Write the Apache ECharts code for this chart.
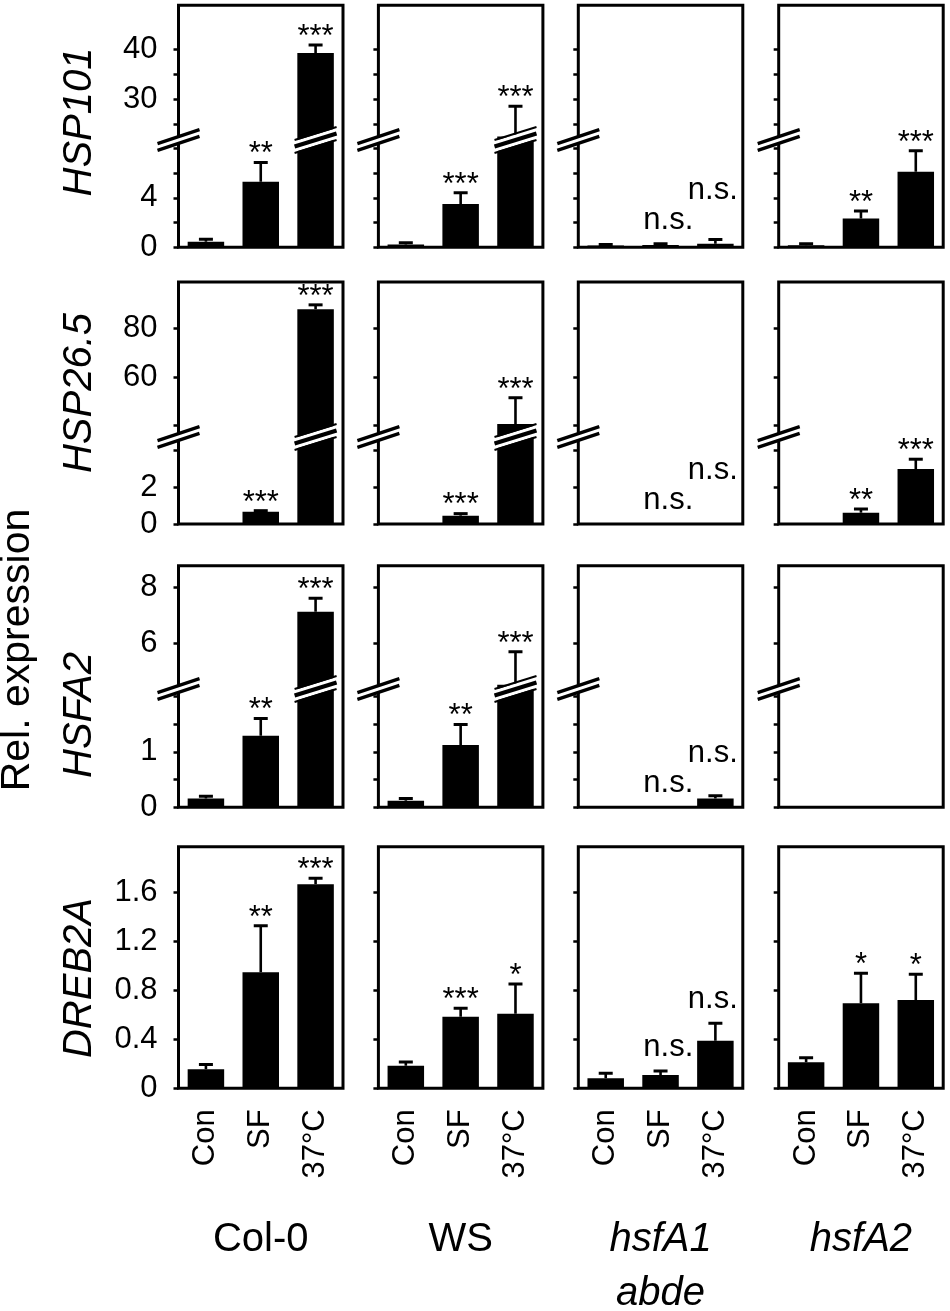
<!DOCTYPE html>
<html><head><meta charset="utf-8">
<script src="https://cdn.jsdelivr.net/npm/echarts@6/dist/echarts.min.js"></script>
<style>html,body{margin:0;padding:0;background:#fff}#c{width:950px;height:1311px}</style>
</head><body><div id="c"></div>
<script>
const FONT = '"Liberation Sans", Arial, Helvetica, sans-serif';

// ---------- data ----------
const treatments = ['Con', 'SF', '37°C'];
const genotypes = ['Col-0', 'WS', 'hsfA1\nabde', 'hsfA2'];
const genotypeItalic = [false, false, true, true];
const genes = ['HSP101', 'HSP26.5', 'HSFA2', 'DREB2A'];

// [genotype][treatment]
const HSP101_mean = [[0.45, 5.3, 39.3], [0.22, 3.5, 22.5], [0.15, 0.18, 0.28], [0.16, 2.32, 6.1]];
const HSP101_sd   = [[0.2, 1.55, 1.6], [0.15, 0.9, 6.1], [0.08, 0.1, 0.35], [0.12, 0.62, 1.7]];
const HSP101_sig  = [['', '**', '***'], ['', '***', '***'], ['', 'n.s.', 'n.s.'], ['', '**', '***']];

const HSP26_5_mean = [[0.02, 0.66, 87.9], [0.02, 0.45, 40.7], [0, 0, 0], [0.02, 0.61, 2.97]];
const HSP26_5_sd   = [[0, 0.06, 1.8], [0, 0.11, 10.8], [0, 0, 0], [0, 0.2, 0.53]];
const HSP26_5_sig  = [['', '***', '***'], ['', '***', '***'], ['', 'n.s.', 'n.s.'], ['', '**', '***']];

const HSFA2_mean = [[0.16, 1.29, 7.13], [0.12, 1.12, 4.52], [0, 0, 0.16], [0, 0, 0]];
const HSFA2_sd   = [[0.04, 0.31, 0.48], [0.04, 0.37, 1.18], [0, 0, 0.05], [0, 0, 0]];
const HSFA2_sig  = [['', '**', '***'], ['', '**', '***'], ['', 'n.s.', 'n.s.'], ['', '', '']];

const DREB2A_mean = [[0.155, 0.947, 1.665], [0.185, 0.585, 0.609], [0.082, 0.109, 0.389], [0.212, 0.694, 0.721]];
const DREB2A_sd   = [[0.04, 0.38, 0.05], [0.03, 0.068, 0.242], [0.04, 0.032, 0.141], [0.038, 0.245, 0.21]];
const DREB2A_sig  = [['', '**', '***'], ['', '***', '*'], ['', 'n.s.', 'n.s.'], ['', '*', '*']];

// axis ticks / labels (rows 1-3 have a broken axis: lower and upper part)
const lowerTicks  = [[0, 2, 4, 6, 8], [0, 2, 4], [0, 0.5, 1, 1.5, 2]];
const lowerLabels = [[0, 4], [0, 2], [0, 1]];
const upperTicks  = [[25, 30, 35, 40], [40, 60, 80], [6, 8]];
const upperLabels = [[30, 40], [60, 80], [6, 8]];
const dreb2aTicks = [0, 0.4, 0.8, 1.2, 1.6];
const lowerMax = [8.67, 4.7, 2.13, 1.972];
const upperMin = [21.8, 35.35, 4.37];
const upperMax = [48.9, 99.1, 8.77];

// ---------- layout ----------
const colLeft = [178.5, 378.4, 578.3, 778.7];
const panelW = 164.5;
const rowTop = [5.3, 282, 565.7, 846.7];
const rowBreak = [140, 437, 689];
const rowBottom = [247.3, 524, 807.3, 1088.3];
const geneLabelY = [122, 393, 715, 978];

const means = [HSP101_mean, HSP26_5_mean, HSFA2_mean, DREB2A_mean];
const sds = [HSP101_sd, HSP26_5_sd, HSFA2_sd, DREB2A_sd];
const sigs = [HSP101_sig, HSP26_5_sig, HSFA2_sig, DREB2A_sig];

function renderErr(params, api) {
  const x = api.value(0), m = api.value(1), t = api.value(2);
  if (!(t > m)) return null;
  const p0 = api.coord([x, m]), p1 = api.coord([x, t]);
  return {
    type: 'group', children: [
      { type: 'line', shape: { x1: p0[0], y1: p0[1], x2: p1[0], y2: p1[1] }, style: { stroke: '#000', lineWidth: 2.6 } },
      { type: 'line', shape: { x1: p1[0] - 7, y1: p1[1], x2: p1[0] + 7, y2: p1[1] }, style: { stroke: '#000', lineWidth: 3 } }
    ]
  };
}

const grids = [], xAxes = [], yAxes = [], series = [];
const gridIdx = {}; // key r_c_part -> grid index
for (let r = 0; r < 4; r++) {
  for (let c = 0; c < 4; c++) {
    const parts = r < 3 ? ['lower', 'upper'] : ['single'];
    parts.forEach(part => {
      const gi = grids.length;
      gridIdx[r + '_' + c + '_' + part] = gi;
      let top, bot, min, max, ticks, labels;
      if (part === 'lower') { top = rowBreak[r]; bot = rowBottom[r]; min = 0; max = lowerMax[r]; ticks = lowerTicks[r]; labels = lowerLabels[r]; }
      else if (part === 'upper') { top = rowTop[r]; bot = rowBreak[r]; min = upperMin[r]; max = upperMax[r]; ticks = upperTicks[r]; labels = upperLabels[r]; }
      else { top = rowTop[r]; bot = rowBottom[r]; min = 0; max = lowerMax[3]; ticks = dreb2aTicks; labels = dreb2aTicks; }
      grids.push({ left: colLeft[c], top: top, width: panelW, height: bot - top, containLabel: false, outerBoundsMode: 'none' });
      xAxes.push({
        type: 'category', gridIndex: gi, data: treatments,
        axisLine: { show: false }, axisTick: { show: false }, splitLine: { show: false },
        axisLabel: { show: part === 'single', interval: 0, rotate: 90, margin: 21, fontSize: 31, fontFamily: FONT, color: '#000' }
      });
      yAxes.push({
        type: 'value', gridIndex: gi, min: min, max: max,
        axisLine: { show: false }, splitLine: { show: false },
        axisTick: { show: true, inside: false, length: 5, lineStyle: { color: '#000', width: 2.5 }, customValues: ticks },
        axisLabel: { show: c === 0, customValues: labels, margin: 21, fontSize: 31, fontFamily: FONT, color: '#000' }
      });
      const m = means[r][c], s = sds[r][c];
      series.push({
        type: 'bar', xAxisIndex: gi, yAxisIndex: gi, data: m, barWidth: 36.5,
        itemStyle: { color: '#000' }, clip: true, silent: true
      });
      series.push({
        type: 'custom', xAxisIndex: gi, yAxisIndex: gi, clip: true, silent: true,
        data: m.map((v, i) => [i, v, v + s[i]]), encode: { x: 0, y: [1, 2] },
        renderItem: renderErr
      });
    });
  }
}

const chart = echarts.init(document.getElementById('c'), null, { renderer: 'canvas' });
chart.setOption({
  backgroundColor: '#fff', animation: false,
  textStyle: { fontFamily: FONT },
  grid: grids, xAxis: xAxes, yAxis: yAxes, series: series
});

// ---------- decorations and texts ----------
const gfx = [];
const Z = 100;
function txt(x, y, text, size, opts) {
  opts = opts || {};
  gfx.push({
    type: 'text', x: x, y: y, rotation: opts.rotation || 0, z: Z + 2, silent: true,
    style: {
      text: text, fontSize: size, fontFamily: FONT, fontStyle: opts.italic ? 'italic' : 'normal',
      fill: '#000', align: opts.align || 'center', textAlign: opts.align || 'center',
      verticalAlign: opts.va || 'middle', textVerticalAlign: opts.va || 'middle',
      lineHeight: opts.lineHeight
    }
  });
}
function poly(points, fill) {
  gfx.push({ type: 'polygon', z: Z + 1, silent: true, shape: { points: points }, style: { fill: fill, stroke: 'none' } });
}
function seg(x1, y1, x2, y2, w) {
  gfx.push({ type: 'line', z: Z + 1, silent: true, shape: { x1: x1, y1: y1, x2: x2, y2: y2 }, style: { stroke: '#000', lineWidth: w } });
}
function band(x, y, hw, dy, o1, o2) {
  return [[x - hw, y + dy + o1], [x + hw, y - dy + o1], [x + hw, y - dy + o2], [x - hw, y + dy + o2]];
}
function axisBreak(x, y) {
  const hw = 21, dy = 7;
  poly(band(x, y, hw, dy, -3.4, 3.4), '#fff');
  seg(x - hw, y + dy - 3.4, x + hw, y - dy - 3.4, 3.3);
  seg(x - hw, y + dy + 3.4, x + hw, y - dy + 3.4, 3.3);
}
function barBreak(x, y) {
  const hw = 21, dy = 6.5;
  poly(band(x, y, hw, dy, -5.5, 5.5), '#fff');
  seg(x - hw, y + dy, x + hw, y - dy, 4);
  seg(x - hw, y + dy - 6.5, x + hw, y - dy - 6.5, 2);
  seg(x - hw, y + dy + 6.5, x + hw, y - dy + 6.5, 2);
}

// panel frames
for (let r = 0; r < 4; r++) for (let c = 0; c < 4; c++) {
  gfx.push({
    type: 'rect', z: Z, silent: true,
    shape: { x: colLeft[c], y: rowTop[r], width: panelW, height: rowBottom[r] - rowTop[r] },
    style: { fill: 'none', stroke: '#000', lineWidth: 3 }
  });
}

const mctx = document.createElement('canvas').getContext('2d');
function textW(s, size) { mctx.font = size + 'px ' + FONT; return mctx.measureText(s).width; }

for (let r = 0; r < 4; r++) for (let c = 0; c < 4; c++) {
  const lowKey = r < 3 ? r + '_' + c + '_lower' : r + '_' + c + '_single';
  const lowGi = gridIdx[lowKey];
  const upGi = gridIdx[r + '_' + c + '_upper'];
  if (r < 3) axisBreak(colLeft[c], rowBreak[r]);
  let prev = null;
  for (let i = 0; i < treatments.length; i++) {
    const m = means[r][c][i], t = m + sds[r][c][i];
    const cx = chart.convertToPixel({ gridIndex: lowGi }, [i, 0])[0];
    if (r < 3 && m > lowerMax[r]) barBreak(cx, rowBreak[r]);
    const s = sigs[r][c][i];
    if (!s) { prev = null; continue; }
    const gi = (r < 3 && t > lowerMax[r]) ? upGi : lowGi;
    const py = chart.convertToPixel({ gridIndex: gi }, [i, t])[1];
    if (s === 'n.s.') {
      const w = textW(s, 31);
      let left = cx - 18.25 + 1;
      const maxRight = colLeft[c] + panelW - 5;
      if (left + w > maxRight) left = maxRight - w;
      let y = py - 23.7;
      if (prev && left < prev.right && Math.abs(y - prev.y) < 28) y = prev.y - 30;
      txt(left, y, s, 31, { align: 'left' });
      prev = { right: left + w, y: y };
    } else {
      const w = textW(s, 31);
      const y = py - 7.7;
      txt(cx, y, s, 31);
      prev = { right: cx + w / 2, y: y };
    }
  }
}

// axis titles
txt(18, 650, 'Rel. expression', 41, { rotation: Math.PI / 2 });
genes.forEach((g, r) => txt(80, geneLabelY[r], g, 40, { rotation: Math.PI / 2, italic: true }));
genotypes.forEach((g, c) => {
  const cx = colLeft[c] + panelW / 2;
  if (g.indexOf('\n') >= 0) txt(cx, 1213, g, 40, { italic: genotypeItalic[c], va: 'top', lineHeight: 54 });
  else txt(cx, 1240, g, 40, { italic: genotypeItalic[c] });
});

chart.setOption({ graphic: { elements: gfx } });
</script>
</body></html>
